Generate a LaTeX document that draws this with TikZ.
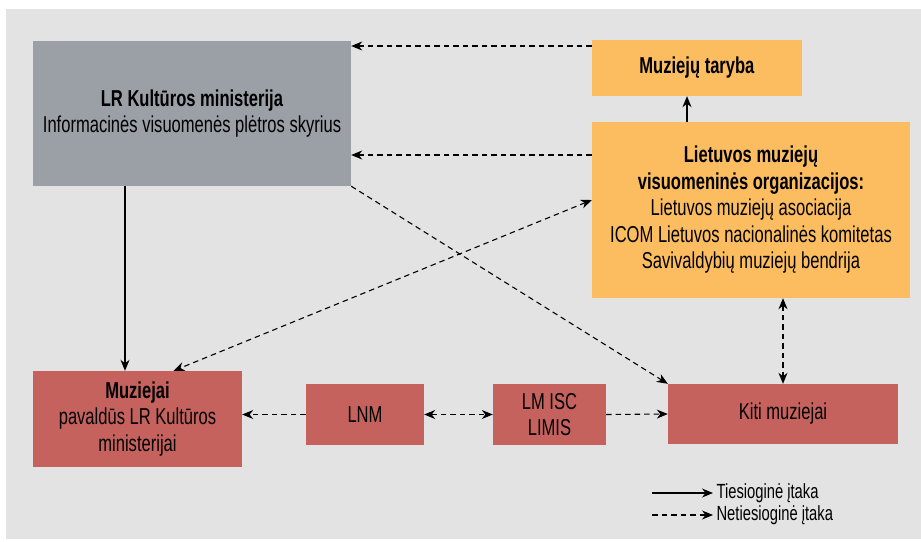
\documentclass[tikz,border=0pt]{standalone}
\usepackage{fontspec}
\setmainfont{Liberation Sans}[FakeStretch=0.72]
\usetikzlibrary{arrows.meta}
\definecolor{bgpanel}{HTML}{E3E3E3}
\definecolor{ministrygray}{HTML}{9B9FA6}
\definecolor{orgorange}{HTML}{FBBD5F}
\definecolor{museumred}{HTML}{C5625E}
\begin{document}
\begin{tikzpicture}[x=1pt, y=-1pt,
    >={Stealth[length=11pt,width=9pt,inset=3.5pt]},
    box/.style={inner sep=0pt, align=center, font=\fontsize{23}{26.5}\selectfont},
    direct/.style={->, line width=1.1pt},
    indirect/.style={->, line width=1.1pt, dash pattern=on 5.5pt off 4pt}]
    \useasboundingbox (0, 0) rectangle (921, 541);
    \fill[bgpanel] (6, 9) rectangle (921, 539);

    \node[box, fill=ministrygray, minimum width=318pt, minimum height=145pt] (min) at (192, 113.5)
        {\textbf{LR Kultūros ministerija}\\Informacinės visuomenės plėtros skyrius};
    \node[box, fill=orgorange, minimum width=210pt, minimum height=56pt] (taryba) at (697, 68)
        {\textbf{Muziejų taryba}};
    \node[box, fill=orgorange, minimum width=318pt, minimum height=176pt] (org) at (751, 210)
        {\textbf{Lietuvos muziejų}\\\textbf{visuomeninės organizacijos:}\\Lietuvos muziejų asociacija\\ICOM Lietuvos nacionalinės komitetas\\Savivaldybių muziejų bendrija};
    \node[box, fill=museumred, minimum width=209pt, minimum height=96pt] (muz) at (137.5, 419)
        {\textbf{Muziejai}\\pavaldūs LR Kultūros\\ministerijai};
    \node[box, fill=museumred, minimum width=118pt, minimum height=61pt] (lnm) at (365, 414.5) {LNM};
    \node[box, fill=museumred, minimum width=113pt, minimum height=61pt] (lmisc) at (549.5, 414.5) {LM ISC\\LIMIS};
    \node[box, fill=museumred, minimum width=230pt, minimum height=60pt] (kiti) at (783, 414) {Kiti muziejai};

    % rysiai
    \draw[indirect] ([yshift=22pt]taryba.west) -- ([yshift=22pt]taryba.west -| min.east);
    \draw[indirect] ([yshift=55pt]org.west) -- ([yshift=55pt]org.west -| min.east);
    \draw[direct] ([xshift=-10pt]taryba.south |- org.north) -- ([xshift=-10pt]taryba.south);
    \draw[direct] ([xshift=-67pt]min.south) -- ([xshift=-67pt]min.south |- muz.north);
    \draw[indirect] (min.south east) -- (kiti.north west);
    \draw[indirect, <->] ([yshift=10pt]org.west) -- ([xshift=36pt]muz.north);
    \draw[indirect, <->] (kiti.north |- org.south) -- (kiti.north);
    \draw[indirect] (lnm.west) -- (lnm.west -| muz.east);
    \draw[indirect, <->] (lnm.east) -- (lmisc.west);
    \draw[indirect] (lmisc.east) -- (kiti.west);

    % legenda
    \coordinate (leg1) at (652, 493);
    \coordinate (leg2) at (652, 515);
    \draw[direct] (leg1) -- ++(61, 0) node[right, inner sep=3pt, font=\fontsize{20.5}{24}\selectfont] (legtxt1) {Tiesioginė įtaka};
    \draw[indirect] (leg2) -- ++(61, 0) node[right, inner sep=3pt, font=\fontsize{20.5}{24}\selectfont] (legtxt2) {Netiesioginė įtaka};
\end{tikzpicture}
\end{document}
